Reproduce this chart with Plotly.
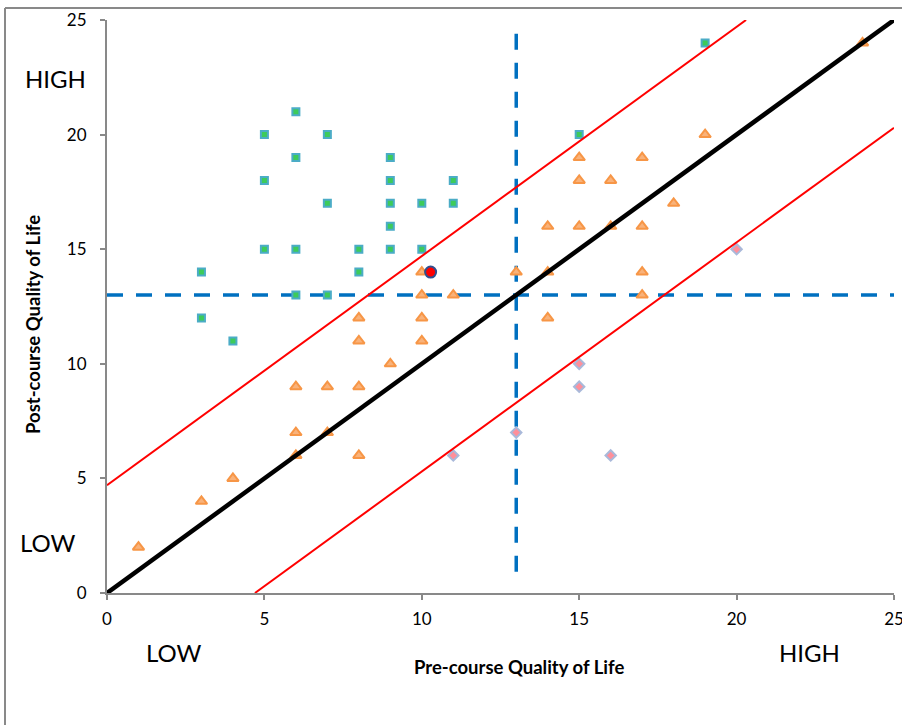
import plotly.graph_objects as go

# ---- data ----
improved_x = [3, 3, 4, 5, 5, 5, 6, 6, 6, 6, 7, 7, 7, 8, 8, 9, 9, 9, 9, 9, 10, 10, 11, 11, 15, 19]
improved_y = [14, 12, 11, 20, 18, 15, 21, 19, 15, 13, 20, 17, 13, 15, 14, 19, 18, 17, 16, 15, 17, 15, 18, 17, 20, 24]

same_x = [1, 3, 4, 6, 6, 6, 7, 7, 8, 8, 8, 8, 9, 10, 10, 10, 10, 11, 13, 14, 14, 14,
          15, 15, 15, 16, 16, 17, 17, 17, 17, 18, 19, 24]
same_y = [2, 4, 5, 9, 7, 6, 9, 7, 12, 11, 9, 6, 10, 14, 13, 12, 11, 13, 14, 16, 14, 12,
          19, 18, 16, 18, 16, 19, 16, 14, 13, 17, 20, 24]

worse_x = [11, 13, 15, 15, 16, 20]
worse_y = [6, 7, 10, 9, 6, 15]

mean_x = [10.28]
mean_y = [14]

identity_x = [0, 25]
identity_y = [0, 25]
band = 4.7
upper_x = [0, 25 - band]
upper_y = [band, 25]
lower_x = [band, 25]
lower_y = [0, 25 - band]

cut_h_x = [0, 25]
cut_h_y = [13, 13]
cut_v_x = [13, 13]
cut_v_y = [24.4, 0.5]

tick_vals = [0, 5, 10, 15, 20, 25]

# ---- layout geometry (pixels) ----
W, H = 902, 725
L, R, T, B = 107, 8, 20, 132
PW, PH = W - L - R, H - T - B


def px(x):
    return (x - L) / PW


def py(y):
    return (H - B - y) / PH


FONT = "Lato, Liberation Sans, sans-serif"

fig = go.Figure()

dash_style = dict(color="#0070C0", width=3.5, dash="16px,13px")
fig.add_trace(go.Scatter(x=cut_h_x, y=cut_h_y, mode="lines", line=dash_style,
                         showlegend=False, hoverinfo="skip"))
fig.add_trace(go.Scatter(x=cut_v_x, y=cut_v_y, mode="lines", line=dash_style,
                         showlegend=False, hoverinfo="skip"))

fig.add_trace(go.Scatter(x=improved_x, y=improved_y, mode="markers", name="Improved",
                         marker=dict(symbol="square", size=7, color="#3DCB5A",
                                     line=dict(color="#4BACC6", width=2)),
                         showlegend=False))
fig.add_trace(go.Scatter(x=same_x, y=same_y, mode="markers", name="Unchanged",
                         marker=dict(symbol="triangle-up", size=10, color="#F9B27A",
                                     line=dict(color="#F79646", width=2)),
                         showlegend=False))
fig.add_trace(go.Scatter(x=worse_x, y=worse_y, mode="markers", name="Worse",
                         marker=dict(symbol="diamond", size=8, color="#FF8F9A",
                                     line=dict(color="#A9B9DA", width=2)),
                         showlegend=False))

fig.add_trace(go.Scatter(x=upper_x, y=upper_y, mode="lines",
                         line=dict(color="#FF0000", width=2), showlegend=False, hoverinfo="skip"))
fig.add_trace(go.Scatter(x=lower_x, y=lower_y, mode="lines",
                         line=dict(color="#FF0000", width=2), showlegend=False, hoverinfo="skip"))
fig.add_trace(go.Scatter(x=identity_x, y=identity_y, mode="lines",
                         line=dict(color="#000000", width=4.5), showlegend=False, hoverinfo="skip"))

fig.add_trace(go.Scatter(x=mean_x, y=mean_y, mode="markers", name="Mean",
                         marker=dict(symbol="circle", size=11, color="#FF0000",
                                     line=dict(color="#2F4F8F", width=2)),
                         showlegend=False))

axis_common = dict(range=[0, 25], tickvals=tick_vals, showgrid=False, zeroline=False,
                   showline=True, linecolor="#898989", linewidth=2,
                   ticks="outside", ticklen=5, tickcolor="#898989", tickwidth=2,
                   ticklabeloverflow="allow", automargin=False,
                   tickfont=dict(family=FONT, size=17, color="#000000"))

fig.update_xaxes(**axis_common, ticklabelstandoff=5)
fig.update_yaxes(**axis_common, ticklabelstandoff=10)

annotations = [
    dict(text="HIGH", x=px(55), y=py(78), size=24),
    dict(text="LOW", x=px(47), y=py(542), size=24),
    dict(text="LOW", x=px(173), y=py(653), size=24),
    dict(text="HIGH", x=px(809), y=py(653), size=24),
]
ann = []
for a in annotations:
    ann.append(dict(text=a["text"], x=a["x"], y=a["y"], xref="paper", yref="paper",
                    showarrow=False, xanchor="center", yanchor="middle",
                    font=dict(family=FONT, size=a["size"], color="#000000")))
ann.append(dict(text="<b>Pre-course Quality of Life</b>", x=px(519), y=py(667),
                xref="paper", yref="paper", showarrow=False,
                xanchor="center", yanchor="middle",
                font=dict(family=FONT, size=18.5, color="#000000")))
ann.append(dict(text="<b>Post-course Quality of Life</b>", x=px(33), y=py(325),
                xref="paper", yref="paper", showarrow=False, textangle=-90,
                xanchor="center", yanchor="middle",
                font=dict(family=FONT, size=18.5, color="#000000")))

shapes = [
    dict(type="line", xref="paper", yref="paper", x0=px(5), x1=px(5), y0=py(8), y1=py(H + 5),
         line=dict(color="#898989", width=2)),
    dict(type="line", xref="paper", yref="paper", x0=px(5), x1=px(W + 5), y0=py(8), y1=py(8),
         line=dict(color="#898989", width=2)),
]

fig.update_layout(
    width=W, height=H,
    margin=dict(l=L, r=R, t=T, b=B, autoexpand=False),
    paper_bgcolor="white", plot_bgcolor="white",
    annotations=ann, shapes=shapes,
    showlegend=False,
)

fig.write_html("out.html")
